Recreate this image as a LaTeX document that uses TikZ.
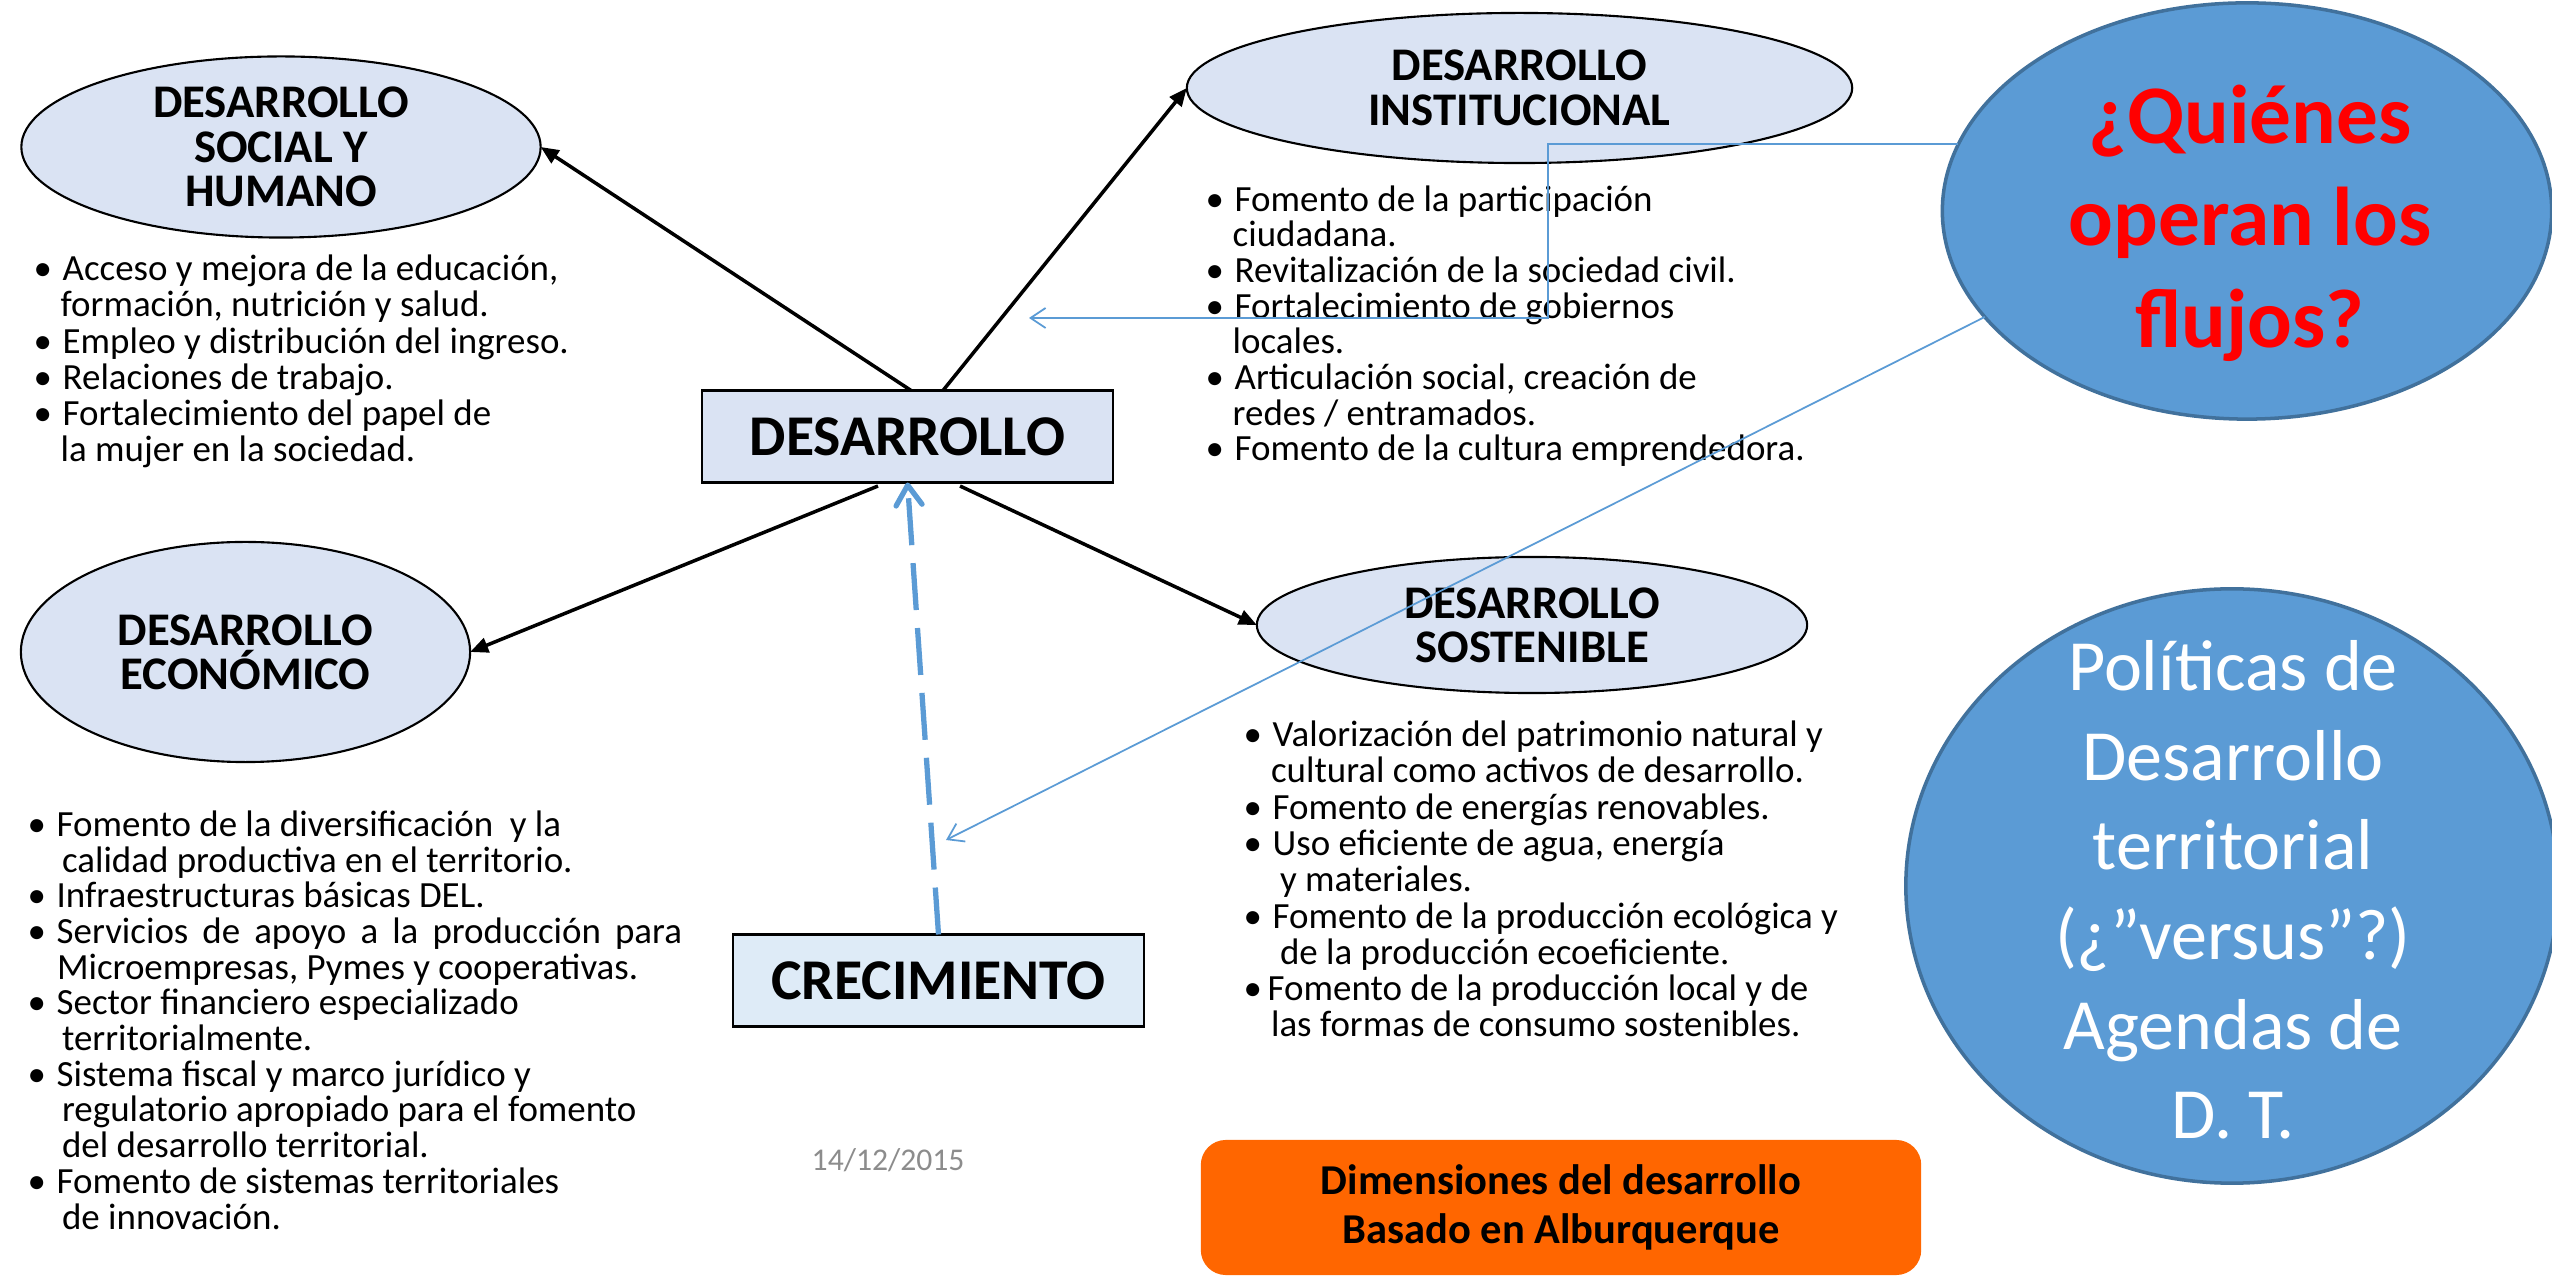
\documentclass[tikz,border=0pt]{standalone}
\usepackage{fontspec}
\setmainfont{Carlito}
\usetikzlibrary{arrows.meta,shapes.geometric}
\definecolor{dimfill}{HTML}{DAE3F3}
\definecolor{crecfill}{HTML}{DEEBF7}
\definecolor{officeblue}{HTML}{5B9BD5}
\definecolor{officeedge}{HTML}{41719C}
\definecolor{fechagray}{HTML}{8C8C8C}
\definecolor{naranja}{HTML}{FF6600}
\newcommand{\bul}[1][0.29cm]{\makebox[#1][l]{•}}
\newcommand{\sig}[1][0.27cm]{\hspace*{#1}}

\begin{document}
\begin{tikzpicture}[x=0.01cm,y=-0.01cm,
    dimension/.style={ellipse,draw=black,line width=0.6pt,fill=dimfill,inner sep=0pt,outer sep=0pt},
    dimtitle/.style={align=center,inner sep=0pt,font=\fontsize{13.3}{12.6}\selectfont\bfseries},
    lista/.style={align=left,anchor=base west,inner sep=0pt,font=\fontsize{10.5}{10.33}\selectfont},
    caja/.style={rectangle,draw=black,line width=0.6pt,inner sep=0pt,outer sep=0pt,
        minimum width=4.11cm,minimum height=0.92cm,font=\fontsize{16.4}{19}\selectfont\bfseries},
    burbuja/.style={ellipse,draw=officeedge,line width=1pt,fill=officeblue,inner sep=0pt,outer sep=0pt},
    flecha/.style={-{Triangle[length=0.18cm,width=0.15cm]},line width=1pt},
    flujo/.style={-{Straight Barb[length=0.15cm,width=0.2cm]},officeblue,line width=0.5pt}
]
\useasboundingbox (0,0) rectangle (2552,1277);

% the four dimensions
\node[dimension,minimum width=5.19cm,minimum height=1.81cm] (social) at (281,147) {};
\node[dimtitle] (socialT) at (social) {DESARROLLO\\SOCIAL Y\\HUMANO};
\node[dimension,minimum width=6.65cm,minimum height=1.5cm] (inst) at (1519.5,88) {};
\node[dimtitle] (instT) at (inst) {DESARROLLO\\INSTITUCIONAL};
\node[dimension,minimum width=4.49cm,minimum height=2.2cm] (econ) at (245.5,652) {};
\node[dimtitle] (econT) at (econ) {DESARROLLO\\ECONÓMICO};
\node[dimension,minimum width=5.5cm,minimum height=1.36cm] (sost) at (1532,625) {};
\node[dimtitle] (sostT) at (sost) {DESARROLLO\\SOSTENIBLE};

% center and growth
\node[caja,fill=dimfill] (desa) at (907.5,436.5) {DESARROLLO};
\node[caja,fill=crecfill] (crec) at (938.5,980.5) {CRECIMIENTO};

% lists (anchored on the last line)
\node[lista] (socialList) at (33,462) {\bul Acceso y mejora de la educación,\\
    \sig formación, nutrición y salud.\\
    \bul Empleo y distribución del ingreso.\\
    \bul Relaciones de trabajo.\\
    \bul Fortalecimiento del papel de\\
    \sig la mujer en la sociedad.};
\node[lista,font=\fontsize{10.5}{10.15}\selectfont] (instList) at (1205,461) {\bul Fomento de la participación\\
    \sig ciudadana.\\
    \bul Revitalización de la sociedad civil.\\
    \bul Fortalecimiento de gobiernos\\
    \sig locales.\\
    \bul Articulación social, creación de\\
    \sig redes / entramados.\\
    \bul Fomento de la cultura emprendedora.};
\node[lista,font=\fontsize{10.5}{10.15}\selectfont] (econList) at (27,1229) {\bul Fomento de la diversificación \ y la\\
    \sig[0.26cm] calidad productiva en el territorio.\\
    \bul Infraestructuras básicas DEL.\\
    \bul\makebox[6.25cm][s]{Servicios de apoyo a la producción para}\\
    \sig[0.21cm] Microempresas, Pymes y cooperativas.\\
    \bul Sector financiero especializado\\
    \sig[0.26cm] territorialmente.\\
    \bul Sistema fiscal y marco jurídico y\\
    \sig[0.26cm] regulatorio apropiado para el fomento\\
    \sig[0.26cm] del desarrollo territorial.\\
    \bul Fomento de sistemas territoriales\\
    \sig[0.26cm] de innovación.};
\node[lista] (sostList) at (1243,1037) {\bul Valorización del patrimonio natural y\\
    \sig[0.19cm] cultural como activos de desarrollo.\\
    \bul Fomento de energías renovables.\\
    \bul Uso eficiente de agua, energía\\
    \sig[0.28cm] y materiales.\\
    \bul Fomento de la producción ecológica y\\
    \sig[0.28cm] de la producción ecoeficiente.\\
    \bul[0.24cm]Fomento de la producción local y de\\
    \sig[0.19cm] las formas de consumo sostenibles.};

% bubbles on the right
\node[burbuja,minimum width=6.09cm,minimum height=4.16cm] (quien) at (2247,211) {};
\node[align=center,inner sep=0pt,text=red,font=\fontsize{23.7}{29}\selectfont\bfseries] (quienT) at (2250,223) {¿Quiénes\\operan los\\flujos?};
\node[burbuja,minimum width=6.52cm,minimum height=5.94cm] (polit) at (2232,886) {};
\node[align=center,inner sep=0pt,text=white,font=\fontsize{20.5}{25.5}\selectfont] (politT) at (2233,890) {Políticas de\\Desarrollo\\territorial\\(¿”versus”?)\\Agendas de\\D. T.};

% footer
\node[anchor=base west,inner sep=0pt,text=fechagray,font=\fontsize{9}{10}\selectfont] (fecha) at (811,1170) {14/12/2015};
\node[fill=naranja,rounded corners=0.25cm,minimum width=7.2cm,minimum height=1.35cm,inner sep=0pt,
    align=center,font=\fontsize{12.1}{13.9}\selectfont\bfseries] (fuente) at (1561,1207.5) {Dimensiones del desarrollo\\Basado en Alburquerque};

% arrows
\draw[flecha] ([xshift=0.035cm]desa.north) -- (social.east);
\draw[flecha] ([xshift=0.355cm]desa.north) -- (inst.west);
\draw[flecha] ([xshift=-0.295cm,yshift=-0.035cm]desa.south) -- (econ.east);
\draw[flecha] ([xshift=0.525cm,yshift=-0.035cm]desa.south) -- (sost.west);
\draw[officeblue,line width=1.5pt,dash pattern=on 0.47cm off 0.18cm,
    -{Straight Barb[length=0.2cm,width=0.26cm,round]}] (crec.north) -- (desa.south);

% who operates the flows
\coordinate (codo) at (1548,0);
\coordinate (instTip) at (1029,318);
\coordinate (crecTip) at (946,840);
\draw[flujo] (quien.167) -| (codo |- instTip) -- (instTip);
\draw[flujo] (quien.202) -- (crecTip);
\end{tikzpicture}
\end{document}
